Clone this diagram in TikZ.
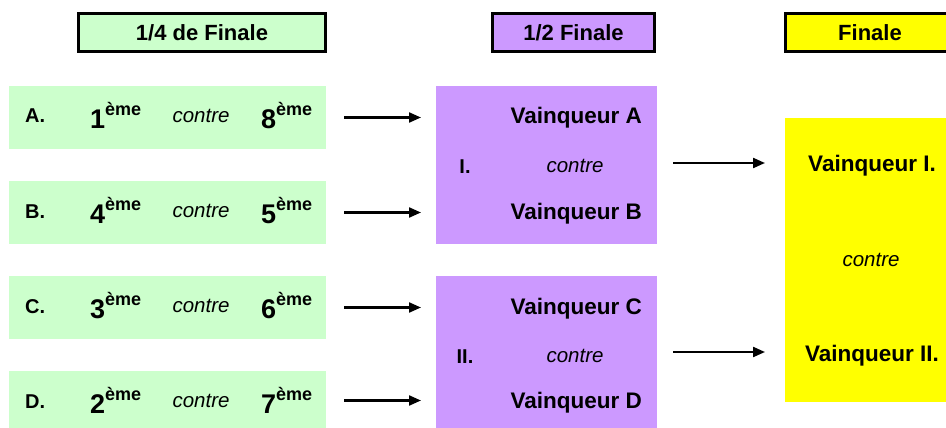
\documentclass[tikz,border=0pt]{standalone}
\usepackage{fontspec}
\setmainfont{Liberation Sans}
\usepackage{tikz}
\usetikzlibrary{arrows.meta}
\definecolor{quartgreen}{HTML}{CCFFCC}
\definecolor{semipurple}{HTML}{CC99FF}
\definecolor{finalyellow}{HTML}{FFFF00}
\newcommand{\rankof}[1]{{\fontsize{27}{27}\selectfont\bfseries #1}\raisebox{13pt}{\fontsize{18}{18}\selectfont\bfseries ème}}

\begin{document}
\begin{tikzpicture}[x=1pt,y=-1pt,
  header/.style={draw,line width=3pt,minimum height=38pt,inner sep=0pt,font=\fontsize{22}{22}\selectfont\bfseries},
  slot/.style={inner sep=0pt,outer sep=0pt},
  lbl/.style={inner sep=0pt,font=\fontsize{20}{20}\selectfont\bfseries},
  rank/.style={inner sep=0pt,anchor=base west},
  vs/.style={inner sep=0pt,anchor=base,font=\fontsize{20.5}{20.5}\selectfont\itshape},
  winner/.style={inner sep=0pt,font=\fontsize{22.5}{22.5}\selectfont\bfseries},
  arr/.style={line width=2.2pt,-{Triangle[length=12pt,width=10pt]}}]
  \useasboundingbox (0,0) rectangle (946,428);
  \clip (0,0) rectangle (946,428);

  \node (quart) at (202,32.5) [header,fill=quartgreen,minimum width=247pt] {1/4 de Finale};
  \node (semi) at (573.5,32.5) [header,fill=semipurple,minimum width=162pt] {1/2 Finale};
  \node (fin) at (870,32.5) [header,fill=finalyellow,minimum width=169pt] {Finale};

  \node (rowA) at (167.5,117.5) [slot,fill=quartgreen,minimum width=317pt,minimum height=63pt] {};
  \node (rowB) at (167.5,212.5) [slot,fill=quartgreen,minimum width=317pt,minimum height=63pt] {};
  \node (rowC) at (167.5,307.5) [slot,fill=quartgreen,minimum width=317pt,minimum height=63pt] {};
  \node (rowD) at (167.5,402.5) [slot,fill=quartgreen,minimum width=317pt,minimum height=63pt] {};

  \node (semiI) at (546.5,165) [slot,fill=semipurple,minimum width=221pt,minimum height=158pt] {};
  \node (semiII) at (546.5,355) [slot,fill=semipurple,minimum width=221pt,minimum height=158pt] {};

  \node (final) at (870,260) [slot,fill=finalyellow,minimum width=170pt,minimum height=284pt] {};

  % quarts de finale
  \node (labA) at (25,123) [lbl,anchor=base west] {A.};
  \node (rankA1) at (90,128.5) [rank] {\rankof{1}};
  \node (vsA) at (201,122) [vs] {contre};
  \node (rankA2) at (261,128.5) [rank] {\rankof{8}};

  \node (labB) at (25,218) [lbl,anchor=base west] {B.};
  \node (rankB1) at (90,223.5) [rank] {\rankof{4}};
  \node (vsB) at (201,217) [vs] {contre};
  \node (rankB2) at (261,223.5) [rank] {\rankof{5}};

  \node (labC) at (25,313) [lbl,anchor=base west] {C.};
  \node (rankC1) at (90,318.5) [rank] {\rankof{3}};
  \node (vsC) at (201,312) [vs] {contre};
  \node (rankC2) at (261,318.5) [rank] {\rankof{6}};

  \node (labD) at (25,408) [lbl,anchor=base west] {D.};
  \node (rankD1) at (90,413.5) [rank] {\rankof{2}};
  \node (vsD) at (201,407) [vs] {contre};
  \node (rankD2) at (261,413.5) [rank] {\rankof{7}};

  % demi-finales
  \node (winA) at (642,124) [winner,anchor=base east] {Vainqueur A};
  \node (labI) at (465,173) [lbl,anchor=base] {I.};
  \node (vsI) at (575,172.5) [vs] {contre};
  \node (winB) at (642,219) [winner,anchor=base east] {Vainqueur B};

  \node (winC) at (642,314) [winner,anchor=base east] {Vainqueur C};
  \node (labII) at (465,363) [lbl,anchor=base] {II.};
  \node (vsII) at (575,362.5) [vs] {contre};
  \node (winD) at (642,408) [winner,anchor=base east] {Vainqueur D};

  % finale
  \node (winI) at (872,171.5) [winner,anchor=base] {Vainqueur I.};
  \node (vsF) at (871,266.5) [vs] {contre};
  \node (winII) at (872,361.5) [winner,anchor=base] {Vainqueur II.};

  \draw[arr,shorten <=18pt,shorten >=15pt] (rowA.east) -- (rowA.east -| semiI.west);
  \draw[arr,shorten <=18pt,shorten >=15pt] (rowB.east) -- (rowB.east -| semiI.west);
  \draw[arr,shorten <=18pt,shorten >=15pt] (rowC.east) -- (rowC.east -| semiII.west);
  \draw[arr,shorten <=18pt,shorten >=15pt] ([yshift=2pt]rowD.east) -- ([yshift=2pt]rowD.east -| semiII.west);

  \draw[arr,shorten <=16pt,shorten >=20pt] ([yshift=2pt]semiI.east) -- ([yshift=2pt]semiI.east -| final.west);
  \draw[arr,shorten <=16pt,shorten >=20pt] ([yshift=3pt]semiII.east) -- ([yshift=3pt]semiII.east -| final.west);

\end{tikzpicture}
\end{document}
